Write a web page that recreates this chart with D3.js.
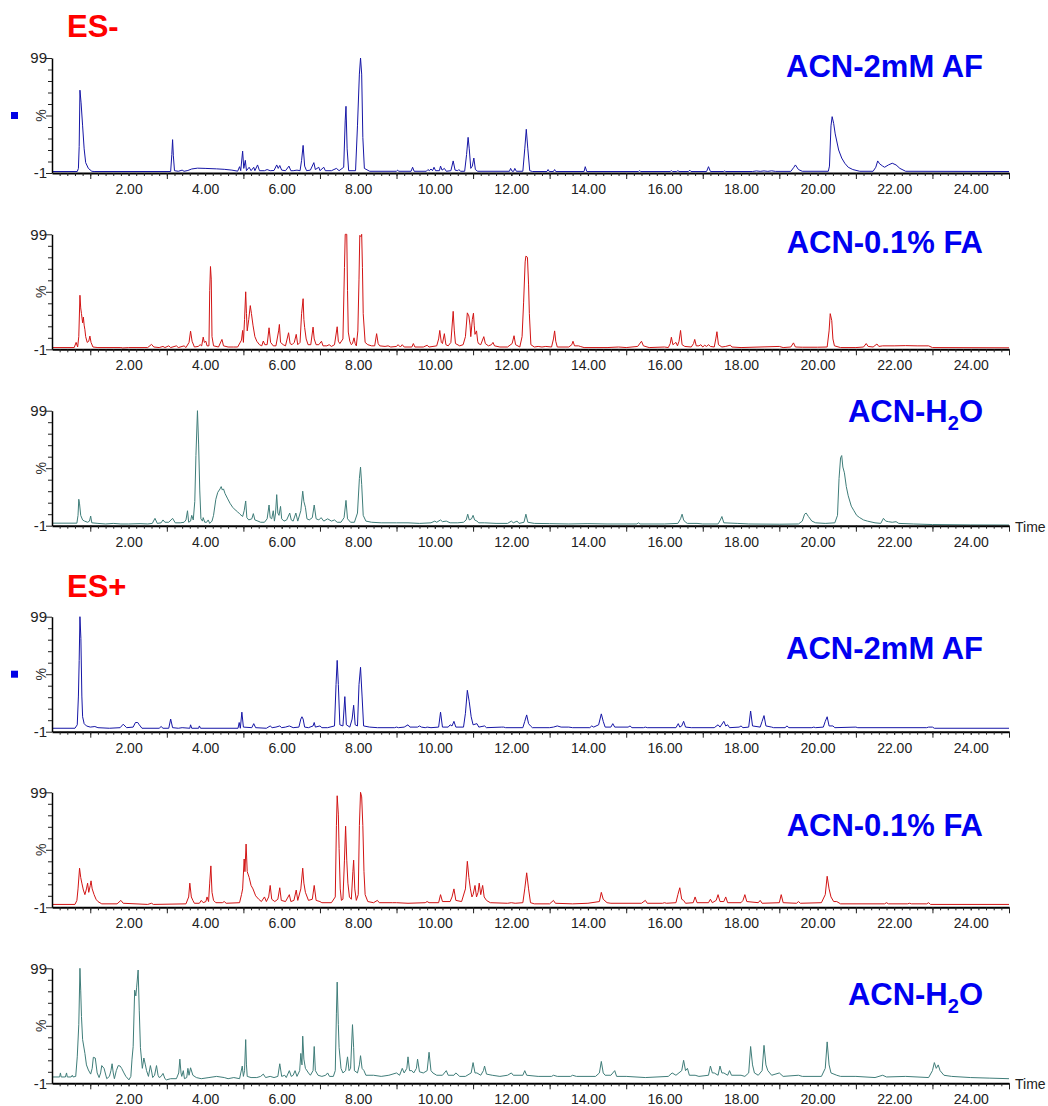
<!DOCTYPE html>
<html><head><meta charset="utf-8">
<script src="https://cdn.jsdelivr.net/npm/d3@7/dist/d3.min.js"></script>
<style>body{margin:0;background:#fff}svg{display:block}</style>
</head><body>
<svg id="c" width="1048" height="1106"></svg>
<script>
// ---------- data ----------
const timeLabelValues = [2,4,6,8,10,12,14,16,18,20,22,24];
const timeLabels = ["2.00","4.00","6.00","8.00","10.00","12.00","14.00","16.00","18.00","20.00","22.00","24.00"];
const yTickLabels = ["99","-1"];
const modeLabels = ["ES-","ES+"];
const seriesLabels = ["ACN-2mM AF","ACN-0.1% FA","ACN-H2O","ACN-2mM AF","ACN-0.1% FA","ACN-H2O"];

// [retention time (min), relative intensity (%)]
const esNegAF = [[0,0.3],[0.66,0.3],[0.69,3],[0.71,22],[0.73,71],[0.76,60],[0.8,40],[0.84,20],[0.88,8],[0.95,3],[1.04,0.5],[1.1,0.3],
[3.1,0.3],[3.13,15],[3.15,28],[3.17,14],[3.2,1],[3.3,0.5],[3.4,1.5],[3.45,0.5],[3.55,1.2],[3.65,2.5],[3.8,3.2],[4.0,3],[4.3,2.6],[4.5,2.2],[4.7,1.5],[4.85,0.6],
[4.9,4.5],[4.93,1],[4.98,18],[5.01,3],[5.05,10],[5.08,1],[5.15,4],[5.2,1],[5.27,4],[5.3,1],[5.37,6],[5.42,1],[5.55,1],[5.62,2],[5.7,1],[5.8,1.2],[5.87,6],[5.91,3],[5.95,5.5],[6.0,1.5],[6.1,1],[6.19,5],[6.24,1],[6.3,1],[6.4,1.5],[6.48,1],
[6.52,10],[6.56,23],[6.6,5],[6.65,1],[6.75,1.5],[6.84,8],[6.88,2],[6.97,4],[7.0,1],[7.1,4],[7.14,1],[7.3,1],[7.43,3],[7.5,1],[7.62,4],[7.66,45],[7.68,57],[7.71,20],[7.75,1],[7.93,1],[7.98,40],[8.03,85],[8.06,99],[8.09,85],[8.12,30],[8.16,3],[8.3,0.5],
[9.0,0.5],[9.03,1.5],[9.06,0.5],[9.38,0.5],[9.42,4],[9.46,0.5],[9.78,0.5],[9.82,2],[9.86,1],[9.9,2.5],[9.94,1],[9.98,4],[10.02,1],[10.12,1],[10.15,5],[10.19,1.5],[10.25,3],[10.3,0.5],[10.42,1],[10.48,9.5],[10.53,1.5],[10.6,1],[10.63,2],[10.67,0.5],[10.78,0.5],[10.83,15],[10.87,30],[10.9,20],[10.94,3],[10.98,5],[11.02,12],[11.06,2],[11.12,0.5],
[11.95,0.5],[11.98,3],[12.02,0.5],[12.06,0.5],[12.09,3],[12.13,0.5],[12.3,0.5],[12.35,20],[12.39,37],[12.43,20],[12.48,1],[12.55,0.3],[12.93,0.3],[12.96,2],[12.99,0.3],[13.1,0.3],[13.13,2],[13.16,0.3],[13.9,0.3],[13.93,4.5],[13.97,0.3],[15.32,0.3],[15.35,1],[15.38,0.3],[16.15,0.3],[16.18,1],[16.21,0.3],[16.32,0.3],[16.35,1],[16.38,0.3],[16.63,0.3],[16.66,1.5],[16.69,0.3],[17.1,0.3],[17.15,4.5],[17.2,0.3],[17.55,0.3],[17.57,0.8],[17.6,0.3],[18.3,0.3],[18.4,0.8],[18.5,0.4],[18.6,0.8],[18.7,0.4],[18.8,0.9],[18.9,0.4],[19.3,0.4],[19.38,4],[19.42,6],[19.5,2],[19.6,0.5],
[20.28,0.5],[20.31,5],[20.35,40],[20.38,48],[20.42,42],[20.46,33],[20.55,19],[20.63,12],[20.71,7.5],[20.8,4],[20.92,2],[21.1,0.5],[21.45,0.5],[21.52,4],[21.57,9.5],[21.62,7],[21.7,5],[21.75,4],[21.85,6],[21.95,7.5],[22.05,6],[22.15,3],[22.3,0.5],[25,0.3]];

const esNegFA = [[0,0.5],[0.58,0.5],[0.63,5],[0.67,1],[0.7,10],[0.73,46],[0.75,35],[0.77,30],[0.8,22],[0.82,27],[0.84,20],[0.86,16],[0.88,10],[0.92,5],[0.96,6],[0.99,10.5],[1.02,5],[1.07,1],[1.2,0.5],[1.8,0.5],[1.85,0.2],[2.0,0.5],[2.5,0.5],[2.6,3.3],[2.66,1],[2.8,0.5],[2.9,1.5],[2.95,0.5],[3.05,2],[3.1,0.5],[3.25,2],[3.3,0.5],[3.45,2],[3.5,0.5],[3.58,5],[3.62,14.8],[3.66,6],[3.72,1],[3.82,1.5],[3.87,3],[3.91,2],[3.95,9.6],[3.98,5],[4.02,6],[4.05,2],[4.1,2],[4.12,50],[4.14,71],[4.16,60],[4.18,10],[4.22,2],[4.35,1],[4.44,7.6],[4.48,2],[4.6,1],[4.74,1],[4.85,1],[4.95,7],[4.98,15.4],[5.0,5],[5.03,25],[5.06,49],[5.08,30],[5.1,15],[5.14,25],[5.18,37],[5.21,30],[5.25,20],[5.3,10],[5.35,6],[5.42,3],[5.48,2],[5.52,6.2],[5.56,3],[5.62,3],[5.67,17.7],[5.71,5],[5.78,2],[5.85,2],[5.92,15],[5.94,20.6],[5.97,5],[6.04,3],[6.1,2],[6.18,13.4],[6.22,4],[6.27,3],[6.33,5],[6.38,12],[6.42,3],[6.48,5],
[6.52,30],[6.56,43],[6.58,25],[6.6,18],[6.64,8],[6.69,3],[6.76,3],[6.82,18.3],[6.85,8],[6.9,3],[6.97,3],[7.04,6],[7.08,2],[7.18,2],[7.24,3],[7.3,1.5],[7.38,3],[7.45,18.6],[7.48,6],[7.52,4],[7.6,8],[7.64,70],[7.66,99],[7.7,99],[7.72,50],[7.74,14],[7.78,6],[7.82,3],[7.85,4],[7.89,9],[7.92,4],[7.95,2],[7.99,15],[8.02,60],[8.04,98],[8.07,97],[8.09,99],[8.11,70],[8.13,30],[8.18,5],[8.25,3],[8.35,2],[8.43,2],[8.48,12.6],[8.52,4],[8.56,2],[8.7,1.5],[8.78,2],[8.85,1],[9.0,1.5],[9.04,3],[9.1,1],[9.15,3],[9.2,1],[9.4,1],[9.44,4],[9.48,1],[9.7,1],[9.8,2.5],[9.85,1],[10.05,2],[10.1,8],[10.13,15.4],[10.17,5],[10.2,4],[10.25,12.6],[10.29,3],[10.35,2],[10.42,5],[10.48,32],[10.51,15],[10.54,4],[10.65,2],[10.74,3],[10.8,10],[10.85,30.7],[10.89,28],[10.92,20],[10.94,10],[10.98,25],[11.01,30.4],[11.03,20],[11.05,12],[11.09,15],[11.12,6],[11.14,4],[11.2,3],[11.28,10],[11.32,4],[11.4,2],[11.48,3],[11.52,5],[11.56,2],[11.7,1],[11.9,1],[12.02,4],[12.07,10.8],[12.11,3],[12.22,1],[12.28,10],[12.32,40],[12.36,75],[12.38,80],[12.42,79],[12.45,55],[12.47,30],[12.51,3],[12.6,1],[12.7,1.5],[12.8,1],[12.9,1.5],[13.05,1],[13.1,8],[13.13,15],[13.16,6],[13.2,1],[13.5,1],[13.58,3],[13.61,6],[13.65,2],[13.75,2],[13.8,1.5],[13.9,0.5],[14.5,0.5],[14.8,1],[15.0,0.5],[15.3,1.5],[15.4,6],[15.45,2],[15.6,0.5],[16.0,1],[16.1,0.5],[16.15,4],[16.18,9.5],[16.22,3],[16.26,4],[16.3,5],[16.34,2],[16.38,6],[16.42,15.4],[16.46,3],[16.53,1.5],[16.7,1],[16.76,4],[16.79,7.6],[16.83,2],[16.9,2],[16.95,3],[17.0,1],[17.05,2.5],[17.1,1.5],[17.15,3],[17.2,1.5],[17.3,1],[17.34,8],[17.37,14.3],[17.41,3],[17.5,1],[17.6,1.5],[17.72,2.6],[17.76,1],[18.0,0.5],[19.0,1.5],[19.1,0.5],[19.3,1],[19.37,4.6],[19.42,1],[19.6,0.8],[20.0,0.8],[20.25,1],[20.3,15],[20.33,30],[20.37,24],[20.4,8],[20.44,2],[20.6,0.5],[21.0,0.5],[21.2,1],[21.27,4],[21.32,1.5],[21.45,1],[21.55,3.6],[21.6,1.5],[21.7,2],[22.0,2],[22.3,2.2],[22.6,2],[22.9,2],[23.0,0.5],[25,0.3]];

const esNegH2O = [[0,1.2],[0.65,1.2],[0.68,8],[0.7,22],[0.72,18],[0.75,8],[0.8,4],[0.85,3],[0.93,2],[0.98,3],[1.01,7.4],[1.04,1.5],[1.2,1],[1.4,0.5],[1.6,1],[1.8,0.5],[2.0,0.5],[2.3,0.8],[2.5,0.5],[2.62,1],[2.69,5.4],[2.75,1],[2.85,1.5],[2.9,4],[2.95,2],[3.05,2],[3.15,5.4],[3.22,1.5],[3.35,1.5],[3.45,2],[3.5,4],[3.54,12],[3.57,2],[3.62,3],[3.65,8],[3.69,4],[3.73,20],[3.76,60],[3.8,99],[3.83,70],[3.86,30],[3.89,5],[3.93,3],[3.95,6],[3.99,2],[4.04,2],[4.08,4],[4.12,1],[4.18,3],[4.22,8],[4.28,22],[4.33,28],[4.39,31],[4.42,33],[4.45,30],[4.48,31],[4.52,27],[4.58,23],[4.65,18.5],[4.72,15],[4.78,13],[4.85,11],[4.91,9],[4.98,7],[5.02,12],[5.06,20.5],[5.09,6],[5.14,4],[5.22,5],[5.26,9.5],[5.3,4],[5.38,3],[5.45,2],[5.55,2],[5.62,5],[5.67,17],[5.7,6],[5.74,5],[5.78,12],[5.81,3],[5.84,10],[5.87,26],[5.9,10],[5.93,8],[5.97,15.8],[6.0,5],[6.06,3],[6.13,4],[6.21,10],[6.25,4],[6.3,3],[6.37,10],[6.42,3],[6.5,12],[6.55,29],[6.58,20],[6.62,15],[6.66,5],[6.72,4],[6.8,6],[6.85,17],[6.9,5],[6.97,4],[7.03,6],[7.1,3],[7.2,5],[7.3,3],[7.38,4],[7.45,2],[7.55,2],[7.63,6],[7.68,21],[7.72,5],[7.8,2],[7.9,2],[7.98,10],[8.03,40],[8.06,50],[8.09,35],[8.13,8],[8.2,3],[8.35,2],[8.6,1.5],[9.0,1.5],[9.3,1.5],[9.6,1],[9.9,1.5],[10.0,3],[10.05,2],[10.15,4],[10.2,2.5],[10.3,3],[10.4,1.5],[10.6,1.5],[10.75,2],[10.82,4],[10.86,9],[10.9,4],[10.96,5],[11.0,8],[11.04,4],[11.1,3],[11.15,1.5],[11.3,1.5],[11.6,1],[11.9,1],[12.0,3],[12.05,1.5],[12.15,3],[12.2,1],[12.33,2],[12.38,9],[12.43,2],[12.6,1],[13.0,0.8],[13.5,0.5],[14.0,0.8],[14.5,0.5],[15.0,0.5],[15.28,0.5],[15.32,1.5],[15.36,0.5],[16.0,0.5],[16.35,1],[16.42,5],[16.46,9],[16.5,4],[16.55,2],[16.6,1],[16.85,1],[17.0,0.5],[17.4,0.5],[17.46,4],[17.5,7],[17.55,1.5],[17.9,1],[18.2,0.5],[19.0,0.3],[19.5,0.5],[19.6,3],[19.66,9],[19.7,10],[19.76,7],[19.85,3],[19.95,1.5],[20.2,1],[20.45,1.5],[20.52,8],[20.56,40],[20.6,58],[20.63,60],[20.66,50],[20.7,45],[20.75,33],[20.8,25],[20.88,16],[20.95,12],[21.02,8],[21.1,6],[21.2,4],[21.3,3],[21.5,1.5],[21.65,1],[21.72,5.4],[21.78,3],[21.85,2.5],[21.95,2],[22.05,2.5],[22.12,1],[22.5,0.5],[23.0,0],[24.0,-0.3],[25,-0.4]];

const esPosAF = [[0,2],[0.6,2],[0.66,5],[0.69,30],[0.71,61],[0.73,99],[0.755,80],[0.78,30],[0.8,12],[0.84,6],[0.9,4],[1.0,3],[1.12,3.5],[1.2,2.5],[1.5,2],[1.78,2.5],[1.86,5.5],[1.95,2.5],[2.12,3],[2.18,7],[2.24,7],[2.28,5],[2.35,2],[2.8,2],[2.85,3.5],[2.9,2],[3.05,2],[3.1,10],[3.15,2.5],[3.3,2],[3.4,2.5],[3.6,2],[3.62,5],[3.65,2],[3.83,2],[3.85,4],[3.88,2],[4.86,2],[4.89,7],[4.92,2],[4.96,16],[5.0,3],[5.22,2.5],[5.27,6],[5.32,2.5],[5.6,2],[5.7,4],[5.75,2.5],[5.85,3],[5.95,4],[6.0,2.5],[6.1,3],[6.2,4],[6.3,2.5],[6.45,3],[6.5,10],[6.53,12],[6.56,10],[6.6,3],[6.7,2.5],[6.82,4],[6.85,7],[6.88,3],[7.0,4],[7.05,2.5],[7.2,2.5],[7.38,4],[7.42,40],[7.45,61],[7.48,40],[7.52,5],[7.6,4],[7.65,29.5],[7.69,5],[7.78,3],[7.84,10],[7.88,22],[7.92,5],[7.98,4],[8.02,40],[8.06,55],[8.1,30],[8.14,4],[8.3,3],[8.5,2.5],[8.95,2.5],[9.0,3],[9.05,2.5],[9.2,3],[9.3,5],[9.35,3],[9.55,3],[9.6,4],[9.65,3],[9.75,2.5],[9.8,3],[9.9,2.5],[10.1,3],[10.15,16],[10.2,3],[10.35,3],[10.4,5],[10.45,4],[10.5,8],[10.55,3],[10.75,3],[10.8,15],[10.85,35],[10.9,25],[10.95,12],[11.0,5],[11.1,6],[11.15,3],[11.3,4],[11.35,2.5],[11.75,3],[11.8,3],[11.85,2.5],[12.3,2.5],[12.35,8],[12.4,13.6],[12.45,6],[12.5,4],[12.55,2.5],[13.0,2.5],[13.1,3],[13.2,4],[13.3,3],[13.5,3],[13.6,2.5],[14.05,2.5],[14.1,4],[14.15,3],[14.28,5],[14.35,14.5],[14.4,8],[14.45,3],[14.6,3],[14.65,6],[14.7,3],[15.05,3],[15.1,4],[15.15,2.5],[15.45,2.5],[15.5,3],[15.55,2.5],[16.3,2.5],[16.36,6],[16.4,3],[16.45,4],[16.5,8],[16.55,3],[16.7,2.5],[17.3,2.5],[17.4,5],[17.45,3],[17.55,8],[17.6,4],[17.65,5],[17.7,2.5],[17.95,3],[18.0,4],[18.05,2.5],[18.2,3],[18.25,17],[18.3,4],[18.5,3],[18.55,8],[18.6,13],[18.65,4],[18.8,3],[18.85,2.5],[19.15,2.5],[19.2,4],[19.25,2.5],[19.85,2.5],[19.9,3],[19.95,2.5],[20.15,3],[20.2,8],[20.25,12],[20.3,4],[20.4,4],[20.45,2.5],[21.0,3],[21.05,2.5],[22.85,2.5],[22.9,3],[23.0,3],[23.05,2],[25,2]];

const esPosFA = [[0,1.5],[0.6,1.5],[0.65,5],[0.68,15],[0.72,33],[0.75,25],[0.78,20],[0.82,14],[0.86,10],[0.9,15],[0.93,20],[0.96,12],[1.0,18],[1.02,22],[1.05,15],[1.1,10],[1.15,6],[1.2,4],[1.3,2],[1.7,2],[1.8,5],[1.86,2.5],[2.5,1.5],[2.6,2.5],[2.65,1.5],[3.5,2],[3.57,8],[3.6,20],[3.64,8],[3.68,5],[3.72,2.5],[3.85,2.5],[3.9,5],[3.95,3],[4.02,4],[4.05,8],[4.09,4],[4.12,20],[4.15,35],[4.18,12],[4.22,5],[4.28,3],[4.45,3],[4.5,4],[4.55,2.5],[4.9,3],[4.95,10],[4.98,15],[5.02,41],[5.04,30],[5.07,54],[5.1,30],[5.15,25],[5.2,18],[5.25,15],[5.32,9],[5.4,6],[5.47,4],[5.55,8],[5.6,4],[5.66,8],[5.7,18],[5.74,6],[5.82,4],[5.9,6],[5.95,16],[5.99,5],[6.1,4],[6.2,10],[6.24,4],[6.32,5],[6.38,14],[6.42,5],[6.5,15],[6.55,33],[6.58,20],[6.62,12],[6.7,5],[6.8,6],[6.85,18],[6.9,5],[7.0,4],[7.05,3],[7.3,3],[7.4,8],[7.43,70],[7.45,96],[7.48,80],[7.5,50],[7.53,15],[7.56,5],[7.6,6],[7.64,40],[7.67,69.5],[7.7,40],[7.73,20],[7.77,8],[7.82,6],[7.86,30],[7.88,40],[7.91,15],[7.95,5],[8.0,10],[8.03,70],[8.06,99],[8.09,95],[8.12,70],[8.15,30],[8.18,10],[8.25,4],[8.4,3],[8.5,5],[8.55,3],[8.9,3],[9.0,3],[9.3,2.5],[9.75,3],[9.8,4],[9.85,3],[10.1,3],[10.15,10],[10.2,4],[10.4,4],[10.45,8],[10.5,15],[10.55,5],[10.7,4],[10.8,15],[10.85,39],[10.89,25],[10.93,15],[10.97,8],[11.0,10],[11.05,18],[11.09,8],[11.13,12],[11.16,20],[11.2,10],[11.25,18],[11.29,8],[11.35,5],[11.45,3],[11.9,2.5],[12.0,3],[12.1,2.5],[12.3,3],[12.35,15],[12.4,29],[12.45,15],[12.5,3],[12.6,2],[13.0,2],[13.1,5],[13.15,2.5],[13.6,2],[14.0,2.5],[14.3,4],[14.35,12],[14.4,6],[14.5,3],[14.6,2.5],[15.4,2.5],[15.5,5],[15.55,2.5],[15.95,2.5],[16.0,3],[16.05,2.5],[16.3,3],[16.35,10],[16.4,16],[16.45,6],[16.5,5],[16.55,2.5],[16.75,3],[16.8,8],[16.85,3],[17.15,3],[17.2,6],[17.25,3],[17.35,5],[17.4,10],[17.45,4],[17.55,4],[17.6,8],[17.65,3],[18.0,3],[18.05,5],[18.1,10],[18.15,4],[18.45,3],[18.5,5],[18.55,2.5],[19.0,3],[19.05,10],[19.1,3],[19.45,2.5],[19.5,4],[19.55,2.5],[20.1,3],[20.2,10],[20.25,26],[20.3,15],[20.35,8],[20.42,4],[20.5,4],[20.6,2],[21.75,2],[21.8,3],[21.85,2],[22.35,2],[22.4,2.5],[22.45,2],[22.85,2],[22.9,3],[22.95,1.5],[25,1.5]];

const esPosH2O = [[0,4.5],[0.2,4.5],[0.22,8],[0.24,4.5],[0.35,4.5],[0.38,8],[0.4,4.5],[0.5,4.5],[0.53,6],[0.55,4.5],[0.62,5],[0.66,22],[0.7,50],[0.73,99],[0.75,80],[0.77,57],[0.8,37],[0.86,25],[0.9,15],[0.95,10.6],[1.01,7],[1.05,12],[1.08,21.6],[1.13,21],[1.18,8],[1.23,4],[1.27,8],[1.3,14.4],[1.36,12],[1.43,3],[1.5,5],[1.54,10],[1.57,16],[1.6,8],[1.63,3],[1.68,10],[1.73,14.4],[1.78,14],[1.82,12],[1.88,8],[1.93,5],[2.01,2],[2.06,5],[2.09,20],[2.12,30.8],[2.16,80],[2.19,75],[2.21,82],[2.25,97.5],[2.28,62],[2.31,30],[2.36,12],[2.4,21],[2.44,15],[2.47,10],[2.52,5],[2.57,14.4],[2.61,8],[2.63,4],[2.68,6],[2.73,14.4],[2.77,6],[2.8,4],[2.85,5],[2.9,7.6],[2.95,3],[2.99,2],[3.1,3],[3.25,3],[3.31,8],[3.34,20],[3.37,8],[3.39,5],[3.43,10],[3.46,3],[3.52,4],[3.55,12],[3.58,6],[3.62,12.5],[3.68,6],[3.77,4],[3.9,3],[4.1,4],[4.3,5],[4.5,4],[4.6,3],[4.75,4],[4.9,3],[4.97,14],[5.0,5],[5.03,10],[5.06,37],[5.08,15],[5.1,5],[5.2,4],[5.35,4],[5.45,5],[5.52,7],[5.58,4],[5.7,5],[5.8,4],[5.9,5],[5.95,16],[6.0,5],[6.08,6],[6.12,4],[6.2,10],[6.25,5],[6.3,6],[6.35,10],[6.4,5],[6.47,10],[6.5,25],[6.53,15],[6.55,40],[6.58,20],[6.62,12],[6.7,8],[6.75,6],[6.82,10],[6.85,31],[6.88,10],[6.95,6],[7.05,5],[7.15,6],[7.2,8],[7.25,5],[7.35,5],[7.4,10],[7.43,60],[7.45,87],[7.48,50],[7.5,30],[7.55,12],[7.6,8],[7.67,10],[7.72,22],[7.76,10],[7.8,12],[7.85,50],[7.88,30],[7.9,10],[7.98,8],[8.03,15],[8.06,23],[8.1,12],[8.15,10],[8.2,6],[8.4,6],[8.6,5],[8.8,6],[9.0,8],[9.08,6],[9.15,12],[9.2,8],[9.27,12],[9.3,22],[9.34,10],[9.4,10],[9.45,8],[9.52,12],[9.55,20],[9.6,9],[9.7,8],[9.8,10],[9.85,26],[9.9,10],[9.95,8],[10.05,6],[10.2,6],[10.3,10],[10.35,6],[10.5,6],[10.55,8],[10.65,5],[10.8,5],[10.95,8],[11.0,17],[11.05,8],[11.1,8],[11.2,6],[11.27,10],[11.3,14],[11.35,7],[11.5,6],[11.7,5],[11.9,6],[12.0,8],[12.05,6],[12.3,6],[12.35,10],[12.4,6],[12.7,5],[13.05,5],[13.1,6],[13.2,5],[13.55,5],[13.6,6],[13.7,5],[14.2,5],[14.3,8],[14.35,18],[14.4,8],[14.45,6],[14.6,6],[14.7,10],[14.75,5],[15.0,5],[15.5,4],[16.1,5],[16.2,8],[16.3,6],[16.45,10],[16.5,19],[16.55,10],[16.6,12],[16.65,6],[16.8,6],[16.9,5],[17.15,6],[17.2,14],[17.25,8],[17.3,8],[17.4,6],[17.45,14],[17.5,8],[17.55,8],[17.65,6],[17.7,10],[17.75,6],[18.0,6],[18.1,5],[18.2,8],[18.25,31],[18.3,15],[18.35,8],[18.45,6],[18.55,10],[18.6,32],[18.65,15],[18.7,10],[18.8,6],[19.0,8],[19.1,5],[19.5,6],[19.6,5],[20.1,5],[20.2,12],[20.25,35],[20.3,15],[20.35,8],[20.5,6],[20.6,5],[21.0,5],[21.5,4],[21.7,6],[21.8,4.5],[22.3,5],[22.9,4],[23.0,10],[23.05,17],[23.1,12],[23.15,15],[23.2,10],[23.3,6],[23.5,5],[24.0,4],[24.5,3.5],[25,3]];

// ---------- layout ----------
const FONT = "'Liberation Sans', Arial, Helvetica, sans-serif";
const panelTops = [58, 234.3, 410.7, 616.7, 792.3, 968.3];
const panelH = 115;
const traceColors = ["#1616a6", "#d21414", "#3f7d79", "#1616a6", "#d21414", "#3f7d79"];
const seriesData = [esNegAF, esNegFA, esNegH2O, esPosAF, esPosFA, esPosH2O];
const labelBaselines = [77, 253, 422, 659, 836, 1005];

const svg = d3.select("#c");
const x = d3.scaleLinear().domain([0, 25]).range([52, 1009]);

seriesData.forEach((data, i) => {
  const top = panelTops[i];
  const y = d3.scaleLinear().domain([-1, 99]).range([top + panelH, top]);
  const g = svg.append("g");

  g.append("path")
    .datum(data)
    .attr("fill", "none")
    .attr("stroke", traceColors[i])
    .attr("stroke-width", 1)
    .attr("stroke-linejoin", "round")
    .attr("d", d3.line().x(d => x(d[0])).y(d => y(d[1])));

  const base = top + panelH;
  const minor = g.append("g").attr("transform", `translate(0,${base})`)
    .call(d3.axisBottom(x).tickValues(d3.range(1, 125).map(k => k * 0.2)).tickSize(3).tickSizeOuter(0).tickFormat(""));
  minor.select(".domain").attr("stroke", "#000").attr("stroke-width", 2);
  minor.selectAll(".tick line").attr("stroke", "#222");
  const major = g.append("g").attr("transform", `translate(0,${base})`)
    .call(d3.axisBottom(x).tickValues(d3.range(1, 26, 2)).tickSize(6).tickSizeOuter(0).tickFormat(""));
  major.select(".domain").remove();
  major.selectAll(".tick line").attr("stroke", "#222");
  const lab = g.append("g").attr("transform", `translate(0,${base})`)
    .call(d3.axisBottom(x).tickValues(timeLabelValues).tickSize(3).tickSizeOuter(0).tickPadding(8)
      .tickFormat((d, k) => timeLabels[k]));
  lab.select(".domain").remove();
  lab.selectAll(".tick line").attr("stroke", "#222");
  lab.selectAll("text").attr("font-family", FONT).attr("font-size", 14).attr("fill", "#222");

  const ya = g.append("g").attr("transform", `translate(52,0)`)
    .call(d3.axisLeft(y).tickValues(d3.range(0, 11).map(k => 99 - 10 * k)).tickSize(4).tickSizeOuter(0)
      .tickFormat(d => d === 99 ? yTickLabels[0] : d === -1 ? yTickLabels[1] : ""));
  ya.select(".domain").attr("stroke", "#000").attr("stroke-width", 1.5);
  ya.selectAll(".tick line").attr("stroke", "#222");
  ya.selectAll(".tick").filter(d => d === 99 || d === -1 || d === 49).select("line").attr("x2", -6);
  ya.selectAll("text").attr("font-family", FONT).attr("font-size", 15).attr("fill", "#222").attr("x", -5);

  g.append("text")
    .attr("transform", `translate(46,${y(49)}) rotate(-90)`)
    .attr("text-anchor", "middle")
    .attr("font-family", FONT).attr("font-size", 14).attr("fill", "#333")
    .text("%");

  const lbl = seriesLabels[i];
  const t = g.append("text")
    .attr("x", 983).attr("y", labelBaselines[i])
    .attr("text-anchor", "end")
    .attr("font-family", FONT).attr("font-weight", "bold").attr("font-size", 31)
    .attr("fill", "#0000f0");
  if (lbl === "ACN-H2O") {
    t.append("tspan").text("ACN-H");
    t.append("tspan").attr("font-size", 20).attr("dy", 8).text("2");
    t.append("tspan").attr("dy", -8).text("O");
  } else {
    t.text(lbl);
  }

  if (i === 2 || i === 5) {
    g.append("text").attr("x", 1015).attr("y", base + 6)
      .attr("font-family", FONT).attr("font-size", 14).attr("fill", "#222").text("Time");
  }
  if (i === 0 || i === 3) {
    g.append("rect").attr("x", 11).attr("y", y(49) - 3.5).attr("width", 7).attr("height", 7).attr("fill", "#0000e6");
  }
});

[[67, 37], [67, 597]].forEach((p, k) => {
  svg.append("text").attr("x", p[0]).attr("y", p[1])
    .attr("font-family", FONT).attr("font-weight", "bold").attr("font-size", 31)
    .attr("fill", "#ff0000").text(modeLabels[k]);
});
</script>
</body></html>
